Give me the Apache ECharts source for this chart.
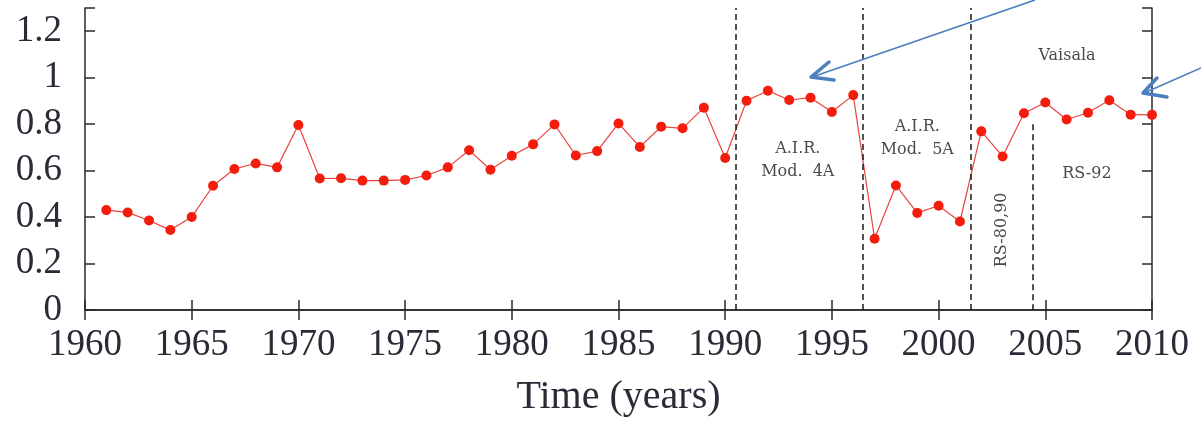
<!DOCTYPE html>
<html>
<head>
<meta charset="utf-8">
<script src="https://cdn.jsdelivr.net/npm/echarts@6/dist/echarts.min.js"></script>
<style>
  html, body { margin: 0; padding: 0; background: #fff; }
  #chart { width: 1201px; height: 422px; }
</style>
</head>
<body>
<div id="chart"></div>
<script>
const years = [1961, 1962, 1963, 1964, 1965, 1966, 1967, 1968, 1969, 1970,
  1971, 1972, 1973, 1974, 1975, 1976, 1977, 1978, 1979, 1980,
  1981, 1982, 1983, 1984, 1985, 1986, 1987, 1988, 1989, 1990,
  1991, 1992, 1993, 1994, 1995, 1996, 1997, 1998, 1999, 2000,
  2001, 2002, 2003, 2004, 2005, 2006, 2007, 2008, 2009, 2010];
const values = [0.43, 0.42, 0.385, 0.344, 0.40, 0.535, 0.607, 0.631, 0.614, 0.796,
  0.566, 0.567, 0.557, 0.557, 0.56, 0.579, 0.614, 0.688, 0.604, 0.664,
  0.713, 0.799, 0.665, 0.684, 0.803, 0.702, 0.789, 0.782, 0.871, 0.654,
  0.901, 0.944, 0.904, 0.914, 0.852, 0.925, 0.307, 0.536, 0.418, 0.449,
  0.381, 0.769, 0.661, 0.847, 0.893, 0.82, 0.849, 0.903, 0.841, 0.84];

// instrument change boundaries (years)
const fullBreaks = [1990.5, 1996.45, 2001.5];
const shortBreak = { x: 2004.4, top: 0.8 };

// region labels: [text, x (year), y (value), rotated]
const regionLabels = [
  ['A.I.R.\nMod.  4A', 1993.4, 0.646, false],
  ['A.I.R.\nMod.  5A', 1999.0, 0.738, false],
  ['RS-80,90', 2002.97, 0.345, true],
  ['Vaisala', 2006.02, 1.092, false],
  ['RS-92', 2006.95, 0.588, false]
];

const chart = echarts.init(document.getElementById('chart'));
const serif = '"Liberation Serif", "DejaVu Serif", serif';
const noteFont = '"DejaVu Serif", serif';
const axisColor = '#2a2a2a';
const textColor = '#2b2b38';

const breakLines = fullBreaks.map(x => ({ xAxis: x }));
breakLines.push([{ coord: [shortBreak.x, shortBreak.top] }, { coord: [shortBreak.x, 0] }]);

chart.setOption({
  animation: false,
  backgroundColor: '#fff',
  grid: { left: 85, right: 49, top: 8, bottom: 109 },
  xAxis: [{
    type: 'value', min: 1960, max: 2010, interval: 5,
    name: 'Time (years)', nameLocation: 'middle', nameGap: 67,
    nameTextStyle: { fontFamily: serif, fontSize: 40, color: textColor },
    axisLine: { lineStyle: { color: axisColor, width: 1.5 } },
    axisTick: { inside: true, length: 10, lineStyle: { color: axisColor, width: 1.5 } },
    axisLabel: { fontFamily: serif, fontSize: 37, color: textColor, margin: 17, formatter: v => String(v) },
    splitLine: { show: false }
  }, {
    type: 'value', min: 1960, max: 2010, interval: 5, position: 'top',
    axisLine: { lineStyle: { color: axisColor, width: 1.5 } },
    axisTick: { inside: true, length: 10, lineStyle: { color: axisColor, width: 1.5 } },
    axisLabel: { show: false },
    splitLine: { show: false }
  }],
  yAxis: [{
    type: 'value', min: 0, max: 1.3, interval: 0.2,
    axisLine: { show: true, lineStyle: { color: axisColor, width: 1.5 } },
    axisTick: { show: true, inside: true, length: 10, lineStyle: { color: axisColor, width: 1.5 } },
    axisLabel: {
      fontFamily: serif, fontSize: 37, color: textColor, margin: 23,
      formatter: v => (v > 1.25 ? '' : String(Math.round(v * 10) / 10))
    },
    splitLine: { show: false }
  }, {
    type: 'value', min: 0, max: 1.3, interval: 0.2, position: 'right',
    axisLine: { show: true, lineStyle: { color: axisColor, width: 1.5 } },
    axisTick: { show: true, inside: true, length: 10, lineStyle: { color: axisColor, width: 1.5 } },
    axisLabel: { show: false },
    splitLine: { show: false }
  }],
  series: [{
    type: 'line',
    data: years.map((y, i) => [y, values[i]]),
    symbol: 'circle',
    symbolSize: 10,
    lineStyle: { color: '#e8453c', width: 1.2 },
    itemStyle: { color: '#f41c0c' },
    z: 3,
    markLine: {
      silent: true,
      symbol: 'none',
      label: { show: false },
      lineStyle: { color: '#1a1a1a', type: [6, 4], width: 1.5 },
      data: breakLines
    }
  }]
});

// annotation texts placed through the axes, plus the blue overlay arrows
const graphics = regionLabels.map(([text, x, y, rot]) => {
  const p = chart.convertToPixel({ gridIndex: 0 }, [x, y]);
  return {
    type: 'text', x: p[0], y: p[1], rotation: rot ? Math.PI / 2 : 0, z: 10,
    style: {
      text: text, fontFamily: noteFont, fontSize: 16, fill: '#4a4a4a',
      align: 'center', verticalAlign: 'middle', lineHeight: 23
    }
  };
});

const arrowBlue = '#4a7fc0';
graphics.push(
  { type: 'polyline', z: 20, shape: { points: [[1035, 0], [812, 77]] }, style: { stroke: arrowBlue, lineWidth: 1.6, fill: null } },
  { type: 'polyline', z: 20, shape: { points: [[829, 62], [811, 77], [834, 80]] }, style: { stroke: arrowBlue, lineWidth: 3.5, fill: null, lineCap: 'round', lineJoin: 'round' } },
  { type: 'polyline', z: 20, shape: { points: [[1201, 68], [1144, 93]] }, style: { stroke: arrowBlue, lineWidth: 1.6, fill: null } },
  { type: 'polyline', z: 20, shape: { points: [[1157, 78], [1143, 93], [1167, 97]] }, style: { stroke: arrowBlue, lineWidth: 3.5, fill: null, lineCap: 'round', lineJoin: 'round' } }
);

chart.setOption({ graphic: graphics });
</script>
</body>
</html>
